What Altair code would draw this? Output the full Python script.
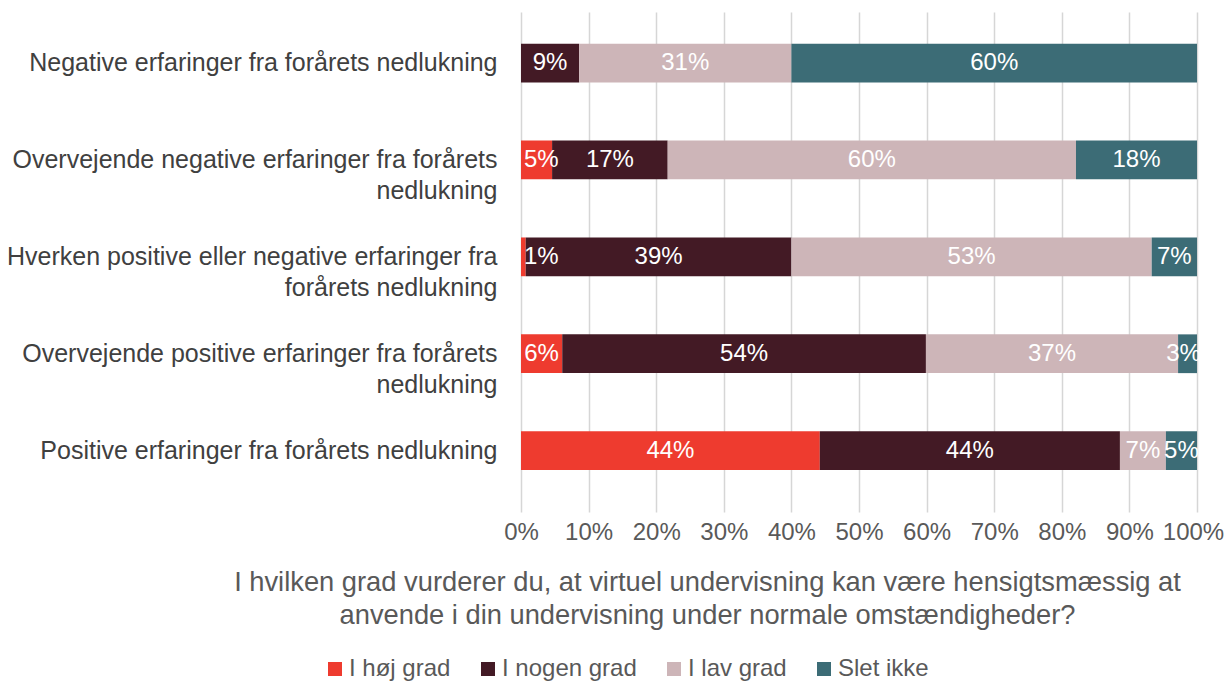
import altair as alt
import pandas as pd

categories = [
    "Negative erfaringer fra forårets nedlukning",
    "Overvejende negative erfaringer fra forårets|nedlukning",
    "Hverken positive eller negative erfaringer fra|forårets nedlukning",
    "Overvejende positive erfaringer fra forårets|nedlukning",
    "Positive erfaringer fra forårets nedlukning",
]
series = ["I høj grad", "I nogen grad", "I lav grad", "Slet ikke"]
colors = ["#EE3B2F", "#431A25", "#CDB5B8", "#3C6C76"]

hoej = [0.0, 0.046, 0.007, 0.061, 0.442]
nogen = [0.086, 0.171, 0.393, 0.538, 0.444]
lav = [0.314, 0.604, 0.533, 0.373, 0.068]
slet = [0.600, 0.179, 0.067, 0.028, 0.046]

x_ticks = [i / 10 for i in range(11)]
x_title = [
    "I hvilken grad vurderer du, at virtuel undervisning kan være hensigtsmæssig at",
    "anvende i din undervisning under normale omstændigheder?",
]

rows = []
for s_i, (name, vals) in enumerate(zip(series, [hoej, nogen, lav, slet])):
    for cat, v in zip(categories, vals):
        if v > 0:
            rows.append({"cat": cat, "series": name, "order": s_i, "value": v})
df = pd.DataFrame(rows)

FONT = "Liberation Sans"

base = alt.Chart(df).transform_stack(
    stack="value", groupby=["cat"], as_=["v0", "v1"],
    sort=[alt.SortField("order", order="ascending")],
).transform_calculate(
    mid="clamp((datum.v0 + datum.v1) / 2, 0.03, 0.98)"
)

y_enc = alt.Y(
    "cat:N", sort=categories, title=None,
    scale=alt.Scale(paddingInner=0.6, paddingOuter=0.38, align=0.43),
    axis=alt.Axis(
        labelExpr="split(datum.label, '|')", labelFontSize=25, labelColor="#404040",
        labelFont=FONT, labelPadding=24, labelLineHeight=31, labelLimit=600,
        domain=False, ticks=False, grid=False,
    ),
)

bars = base.mark_bar().encode(
    x=alt.X(
        "v0:Q",
        scale=alt.Scale(domain=[0, 1], nice=False),
        axis=alt.Axis(
            values=x_ticks, format=".0%", labelFontSize=24, labelColor="#595959",
            labelFont=FONT, labelPadding=8, labelOverlap=False, labelFlush=False,
            labelOffset={"condition": {"test": "datum.value >= 1", "value": -4}, "value": 0},
            domain=False, ticks=False,
            grid=True, gridColor="#d6d6d6", gridWidth=1.5,
            title=x_title, titleFont=FONT, titleFontSize=27.3, titleFontWeight="normal",
            titleColor="#595959", titleX=186, titleY=56, titleBaseline="top",
            titleLineHeight=33, titleAlign="center",
        ),
    ),
    x2="v1:Q",
    y=y_enc,
    color=alt.Color(
        "series:N",
        scale=alt.Scale(domain=series, range=colors),
        legend=alt.Legend(
            title=None, orient="none", direction="horizontal",
            legendX=-198, legendY=645, symbolType="square", symbolSize=196,
            symbolStrokeWidth=0, labelFontSize=24, labelColor="#595959", labelFont=FONT,
            columnPadding=25, labelOffset=2, padding=0,
        ),
    ),
)

labels = base.mark_text(color="white", fontSize=24, font=FONT).encode(
    x=alt.X("mid:Q"),
    y=alt.Y("cat:N", sort=categories),
    text=alt.Text("value:Q", format=".0%"),
)

chart = alt.layer(bars, labels).properties(
    width=676, height=500,
    autosize=alt.AutoSizeParams(type="none"),
    padding={"left": 513, "top": 4, "right": 27, "bottom": 171},
).configure_view(stroke=None)

chart.save("out.html", embed_options={"renderer": "svg", "actions": False})
